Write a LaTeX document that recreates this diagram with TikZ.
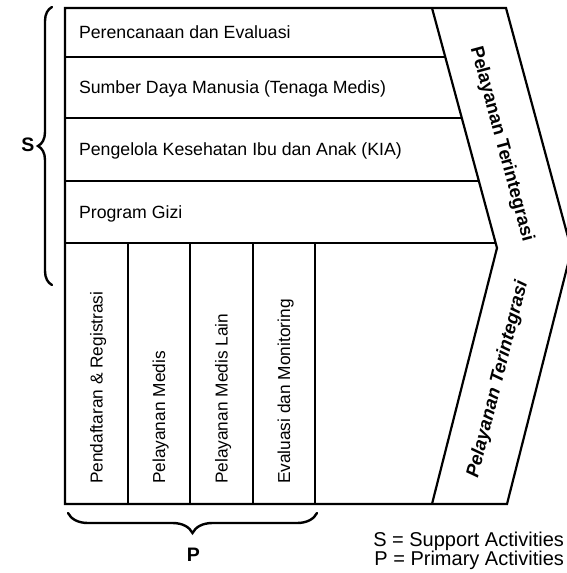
\documentclass[tikz,border=0pt]{standalone}
\usepackage{fontspec}
\setmainfont{Liberation Sans}
\usetikzlibrary{decorations.pathreplacing}
\begin{document}
\begin{tikzpicture}[x=1pt,y=-1pt,line width=2.2pt,line join=miter,
  rowtext/.style={anchor=base west,inner sep=0pt,font=\fontsize{17.7}{20}\selectfont},
  coltext/.style={anchor=base west,inner sep=0pt,rotate=90,font=\fontsize{17.3}{20}\selectfont},
  chevtext/.style={inner sep=0pt,font=\fontsize{18.5}{22}\selectfont\bfseries},
  bracelbl/.style={inner sep=0pt,font=\fontsize{19.5}{22}\selectfont\bfseries},
  legend/.style={anchor=base east,inner sep=0pt,font=\fontsize{20}{22}\selectfont},
  bracestyle/.style={decorate,line width=2.4pt,line cap=round}]
\useasboundingbox (0,0) rectangle (567,573);
\clip (0,0) rectangle (567,573);
% corner coordinates
\coordinate (TL) at (65,8);
\coordinate (BL) at (65,504);
\coordinate (IT) at (432,8);
\coordinate (IA) at (497,248);
\coordinate (IB) at (432,504);
\coordinate (OT) at (506,8);
\coordinate (OA) at (571.5,250);
\coordinate (OB) at (507,504);
% outline
\draw (TL) -- (OT) -- (OA) -- (OB) -- (BL) -- cycle;
\draw (IT) -- (IA) -- (IB);
% support rows
\coordinate (r1l) at (65,57);  \coordinate (r1r) at (445.3,57);
\coordinate (r2l) at (65,118); \coordinate (r2r) at (461.8,118);
\coordinate (r3l) at (65,181); \coordinate (r3r) at (478.9,181);
\coordinate (r4l) at (65,243); \coordinate (r4r) at (495.7,243);
\draw (r1l) -- (r1r);
\draw (r2l) -- (r2r);
\draw (r3l) -- (r3r);
\draw (r4l) -- (r4r);
% primary columns
\foreach \x/\n in {128/c1,190/c2,253/c3,315/c4}{
  \coordinate (\n t) at (\x,243);
  \coordinate (\n b) at (\x,504);
  \draw (\n t) -- (\n b);
}
% row texts
\node[rowtext] (t1) at (78,38.5) {Perencanaan dan Evaluasi};
\node[rowtext] (t2) at (78,93.5) {Sumber Daya Manusia (Tenaga Medis)};
\node[rowtext] (t3) at (78,155.5) {Pengelola Kesehatan Ibu dan Anak (KIA)};
\node[rowtext] (t4) at (78,218) {Program Gizi};
% column texts
\node[coltext] (p1) at (102.5,485) {Pendaftaran \& Registrasi};
\node[coltext] (p2) at (165,485) {Pelayanan Medis};
\node[coltext] (p3) at (227.5,485) {Pelayanan Medis Lain};
\node[coltext] (p4) at (290,485) {Evaluasi dan Monitoring};
% chevron texts
\node[chevtext,rotate=-74.85] (ch1) at (501.5,144) {Pelayanan Terintegrasi};
\node[chevtext,rotate=75.8,font=\fontsize{18.5}{22}\selectfont\bfseries\itshape] (ch2) at (498,379.5) {Pelayanan Terintegrasi};
% braces
\draw[bracestyle,decoration={brace,amplitude=14pt}] (52,285) -- (52,7);
\node[bracelbl] (S) at (28,145) {S};
\draw[bracestyle,decoration={brace,amplitude=20pt}] (317,513) -- (68,513);
\node[bracelbl] (P) at (193.5,555) {P};
% legend
\node[legend] (l1) at (565,546.5) {S = Support Activities};
\node[legend] (l2) at (565,565.5) {P = Primary Activities};
\end{tikzpicture}
\end{document}
